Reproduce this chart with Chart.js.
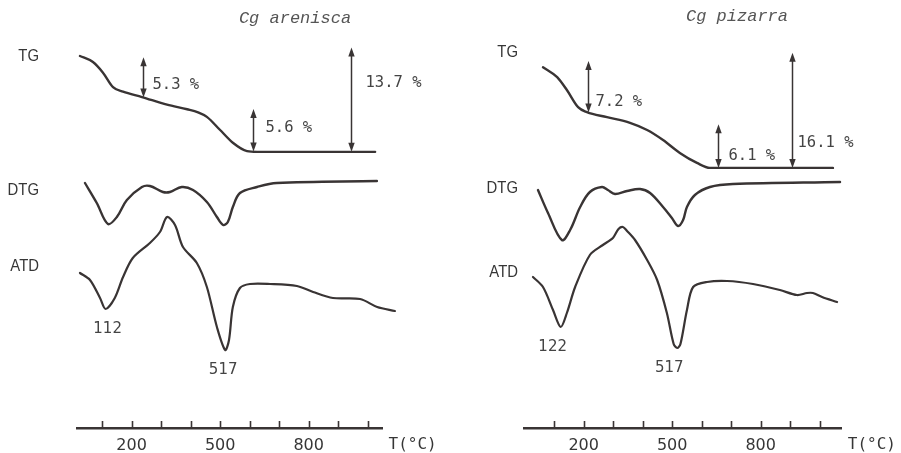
<!DOCTYPE html>
<html>
<head>
<meta charset="utf-8">
<script src="https://cdn.jsdelivr.net/npm/chart.js@4/dist/chart.umd.min.js"></script>
<style>
  html, body { margin: 0; padding: 0; background: #fff; }
  #wrap { position: relative; width: 901px; height: 453px; overflow: hidden; }
  #wrap canvas { position: absolute; top: 0; }
  #arenisca { left: 0; }
  #pizarra { left: 450px; }
</style>
</head>
<body>
<div id="wrap">
  <canvas id="arenisca" width="450" height="453"></canvas>
  <canvas id="pizarra" width="451" height="453"></canvas>
</div>
<script>
// Temperature scale (°C): every mark, and the ones that carry a number
const tickTemps = [100, 200, 300, 400, 500, 600, 700, 800, 900, 1000];
const labeledTemps = [200, 500, 800];

// ---- Cg arenisca ----
// TG: remaining mass (%)
const arenTgT = [25, 69, 103, 137, 171, 235, 320, 388, 425, 455, 499, 543, 591, 625, 669, 1025];
const arenTg  = [98.9, 98.1, 96.7, 94.8, 94.2, 93.5, 92.5, 91.9, 91.5, 90.9, 89.2, 87.5, 86.4, 86.3, 86.3, 86.3];
// DTG (relative units)
const arenDtgT = [42, 82, 120, 150, 184, 235, 262, 306, 330, 370, 408, 455, 489, 510, 526, 543, 567, 625, 692, 1031];
const arenDtg  = [-0.10, -1.10, -2.15, -1.80, -0.95, -0.30, -0.25, -0.55, -0.55, -0.30, -0.45, -1.05, -1.80, -2.20, -2.05, -1.30, -0.60, -0.30, -0.10, 0];
// ATD (relative units)
const arenAtdT = [25, 59, 93, 112, 143, 171, 204, 262, 296, 320, 347, 374, 421, 455, 489, 517, 530, 543, 567, 601, 669, 760, 815, 882, 974, 1032, 1092];
const arenAtd  = [1.1, 0.4, -1.4, -2.5, -1.4, 0.7, 2.6, 4.1, 5.2, 6.7, 5.9, 3.7, 2.1, -0.3, -4.3, -6.6, -5.6, -2.3, -0.4, 0, 0, -0.2, -0.8, -1.4, -1.5, -2.3, -2.7];
// Mass-loss steps: temperature where measured and loss (%)
const arenStepT = [240, 611, 943];
const arenStepLoss = [5.3, 5.6, 13.7];
// ATD endothermic peaks (°C)
const arenPeakT = [112, 517];

// ---- Cg pizarra ----
const pizTgT = [62, 110, 143, 181, 211, 279, 357, 415, 469, 526, 584, 628, 662, 1045];
const pizTg  = [98.0, 96.6, 94.8, 92.4, 91.7, 91.0, 90.2, 89.2, 87.8, 86.0, 84.6, 83.9, 83.9, 83.9];
const pizDtgT = [45, 79, 126, 154, 188, 221, 262, 282, 306, 347, 391, 425, 469, 499, 520, 537, 550, 577, 628, 706, 1069];
const pizDtg  = [-0.45, -1.60, -2.95, -2.45, -1.30, -0.55, -0.30, -0.45, -0.65, -0.50, -0.40, -0.60, -1.30, -1.85, -2.25, -1.95, -1.30, -0.70, -0.30, -0.15, -0.05];
const pizAtdT = [28, 62, 96, 122, 143, 171, 221, 265, 299, 318, 333, 347, 374, 415, 449, 482, 505, 517, 528, 550, 571, 618, 686, 774, 865, 923, 957, 977, 1008, 1059];
const pizAtd  = [0.7, -0.3, -2.6, -4.3, -2.9, -0.3, 2.9, 3.9, 4.6, 5.5, 5.7, 5.3, 4.4, 2.4, 0.4, -2.9, -6.0, -6.4, -6.0, -2.6, -0.3, 0.2, 0.3, 0, -0.6, -1.1, -0.9, -0.9, -1.3, -1.8];
const pizStepT = [215, 655, 906];
const pizStepLoss = [7.2, 6.1, 16.1];
const pizPeakT = [122, 517];

const INK = '#393434';
const TEXT = '#363636';

function interp(xs, ys, x) {
  for (let i = 1; i < xs.length; i++) {
    if (x <= xs[i]) {
      const f = (x - xs[i - 1]) / (xs[i] - xs[i - 1]);
      return ys[i - 1] + f * (ys[i] - ys[i - 1]);
    }
  }
  return ys[ys.length - 1];
}
const pts = (xs, ys) => xs.map((x, i) => ({ x, y: ys[i] }));

function arrowHead(ctx, x, y, dir) { // dir -1: points up, 1: points down
  ctx.beginPath();
  ctx.moveTo(x, y);
  ctx.lineTo(x - 3.2, y - dir * 9);
  ctx.lineTo(x + 3.2, y - dir * 9);
  ctx.closePath();
  ctx.fill();
}

// Axis marks, captions, mass-loss arrows and peak temperatures
const decoPlugin = {
  id: 'deco',
  afterDraw(chart, args, o) {
    const { ctx, chartArea: a, scales: { x, yTG, yATD } } = chart;
    ctx.save();

    ctx.strokeStyle = INK;
    ctx.lineWidth = 1.6;
    for (const t of x.ticks) {
      const px = Math.round(x.getPixelForValue(t.value)) + 0.5;
      ctx.beginPath();
      ctx.moveTo(px, a.bottom);
      ctx.lineTo(px, a.bottom - 7);
      ctx.stroke();
    }

    ctx.fillStyle = TEXT;
    ctx.font = '16px "DejaVu Sans Mono"';
    ctx.textAlign = 'left';
    ctx.textBaseline = 'middle';
    ctx.fillText('T(°C)', a.right + 6, a.bottom + 17);

    ctx.font = 'italic 17px "Liberation Mono"';
    ctx.fillStyle = '#555';
    ctx.textAlign = 'center';
    ctx.fillText(o.title, o.titleX, o.titleY);

    ctx.font = '16px "Liberation Sans"';
    ctx.fillStyle = TEXT;
    ctx.textAlign = 'right';
    o.names.forEach(([txt, y]) => {
      ctx.save();
      ctx.translate(o.nameX, y);
      ctx.scale(0.93, 1);
      ctx.fillText(txt, 0, 0);
      ctx.restore();
    });

    o.stepT.forEach((T, i) => {
      const loss = o.stepLoss[i];
      const base = interp(o.tgT, o.tg, T);
      const px = Math.round(x.getPixelForValue(T)) + 0.5;
      const yb = yTG.getPixelForValue(base);
      const yt = yTG.getPixelForValue(base + loss);
      ctx.strokeStyle = INK;
      ctx.fillStyle = INK;
      ctx.lineWidth = 1.5;
      ctx.beginPath();
      ctx.moveTo(px, yb - 4);
      ctx.lineTo(px, yt + 4);
      ctx.stroke();
      arrowHead(ctx, px, yt, -1);
      arrowHead(ctx, px, yb, 1);
      const [dx, frac] = o.stepLabel[i];
      ctx.font = '15.5px "DejaVu Sans Mono"';
      ctx.fillStyle = '#444';
      ctx.textAlign = 'left';
      ctx.fillText(loss.toFixed(1) + ' %', px + dx, yTG.getPixelForValue(base + loss * frac));
    });

    ctx.font = '15px "DejaVu Sans"';
    ctx.fillStyle = '#444';
    ctx.textAlign = 'center';
    o.peakT.forEach((T, i) => {
      const v = interp(o.atdT, o.atd, T);
      ctx.fillText(String(T), x.getPixelForValue(T) + o.peakDx[i], yATD.getPixelForValue(v) + 20);
    });

    ctx.restore();
  }
};

function makePanel(id, s, layout) {
  const line = { borderColor: INK, pointRadius: 0, fill: false, clip: false, borderJoinStyle: 'round', borderCapStyle: 'round' };
  return new Chart(document.getElementById(id), {
    type: 'line',
    data: {
      datasets: [
        { ...line, data: pts(s.tgT, s.tg), yAxisID: 'yTG', borderWidth: 2.4, cubicInterpolationMode: 'monotone' },
        { ...line, data: pts(s.dtgT, s.dtg), yAxisID: 'yDTG', borderWidth: 2.4, tension: 0.35 },
        { ...line, data: pts(s.atdT, s.atd), yAxisID: 'yATD', borderWidth: 2.2, tension: 0.3 }
      ]
    },
    options: {
      responsive: false,
      devicePixelRatio: 1,
      animation: false,
      events: [],
      layout: { padding: { left: layout.padLeft, right: layout.padRight, top: 40, bottom: 0 } },
      plugins: {
        legend: { display: false },
        tooltip: { enabled: false },
        deco: {
          title: s.title, titleX: layout.titleX, titleY: layout.titleY,
          nameX: layout.nameX, names: layout.names,
          stepT: s.stepT, stepLoss: s.stepLoss, stepLabel: layout.stepLabel,
          tgT: s.tgT, tg: s.tg, atdT: s.atdT, atd: s.atd,
          peakT: s.peakT, peakDx: layout.peakDx
        }
      },
      scales: {
        x: {
          type: 'linear',
          min: layout.xMin,
          max: layout.xMax,
          afterBuildTicks: sc => { sc.ticks = tickTemps.map(v => ({ value: v })); },
          afterFit: sc => { sc.height = 25; },
          grid: { display: false, drawTicks: false },
          border: { display: true, color: INK, width: 2.5 },
          ticks: {
            autoSkip: false, maxRotation: 0, padding: 8,
            color: TEXT,
            font: { family: 'DejaVu Sans', size: 16 },
            callback: v => (labeledTemps.includes(v) ? String(v) : '')
          }
        },
        yTG: { type: 'linear', display: false, min: layout.tgMin, max: layout.tgMax },
        yDTG: { type: 'linear', display: false, min: -12.35, max: 7.05 },
        yATD: { type: 'linear', display: false, min: -14.4, max: 24.4 }
      }
    },
    plugins: [decoPlugin]
  });
}

makePanel('arenisca', {
  title: 'Cg arenisca',
  tgT: arenTgT, tg: arenTg, dtgT: arenDtgT, dtg: arenDtg, atdT: arenAtdT, atd: arenAtd,
  stepT: arenStepT, stepLoss: arenStepLoss, peakT: arenPeakT
}, {
  xMin: 15, xMax: 1050, padLeft: 77, padRight: 67.5,
  tgMin: 50, tgMax: 101,
  titleX: 295, titleY: 18,
  nameX: 39, names: [['TG', 57], ['DTG', 191], ['ATD', 267]],
  stepLabel: [[9, 0.31], [12, 0.56], [14, 0.66]],
  peakDx: [2, -2]
});

makePanel('pizarra', {
  title: 'Cg pizarra',
  tgT: pizTgT, tg: pizTg, dtgT: pizDtgT, dtg: pizDtg, atdT: pizAtdT, atd: pizAtd,
  stepT: pizStepT, stepLoss: pizStepLoss, peakT: pizPeakT
}, {
  xMin: 0, xMax: 1075, padLeft: 74.7, padRight: 59.2,
  tgMin: 47.5, tgMax: 101.8,
  titleX: 287, titleY: 16,
  nameX: 68, names: [['TG', 53], ['DTG', 189], ['ATD', 273]],
  stepLabel: [[7, 0.2], [10, 0.28], [5, 0.22]],
  peakDx: [-8, -8]
});
</script>
</body>
</html>
